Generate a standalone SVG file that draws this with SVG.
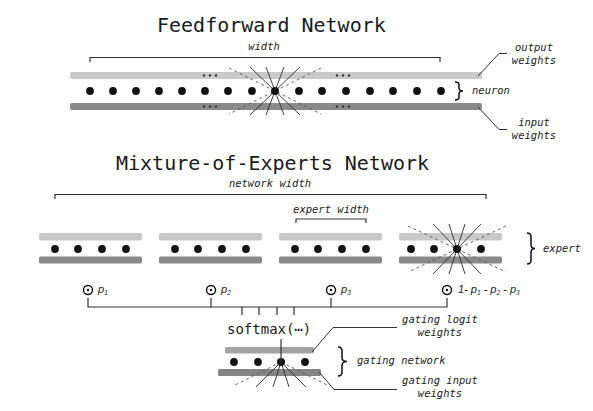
<svg xmlns="http://www.w3.org/2000/svg" width="593" height="411" viewBox="0 0 593 411">
<style>
.title{font-family:"DejaVu Sans Mono","Liberation Mono",monospace;font-size:20px;fill:#1a1a1a}
.lab{font-family:"DejaVu Sans Mono","Liberation Mono",monospace;font-size:10.5px;font-style:italic;fill:#222}
.mid{text-anchor:middle}
.sm{font-family:"DejaVu Sans Mono","Liberation Mono",monospace;font-size:14px;fill:#1a1a1a}
.p{font-family:"Liberation Sans","DejaVu Sans",sans-serif;font-size:11px;font-style:italic;fill:#222}
.sub{font-size:6.5px}
.light{fill:#c9c9c9}
.dark{fill:#8a8a8a}
.gl{fill:#a3a3a3}
.gd{fill:#858585}
.n{fill:#111}
.dot{fill:#333}
.ray{stroke:#2a2a2a;stroke-width:0.9;fill:none}
.dash{stroke:#555;stroke-width:0.9;stroke-dasharray:3 3;fill:none}
.ln{stroke:#333;stroke-width:1.2;fill:none}
.lead{stroke:#333;stroke-width:1;fill:none}
.br{stroke:#111;stroke-width:1.5;fill:none}
.ring{stroke:#111;stroke-width:1.4;fill:none}
</style>

<text class="title" x="157" y="32">Feedforward Network</text>
<text class="title" x="116" y="170">Mixture-of-Experts Network</text>

<g id="ff-network">
  <rect class="light" x="70" y="72" width="412" height="7" rx="2"/>
  <rect class="dark" x="70" y="103" width="412" height="7" rx="2"/>
  <g class="dot">
    <circle cx="204" cy="75.5" r="1.2"/><circle cx="210" cy="75.5" r="1.2"/><circle cx="216" cy="75.5" r="1.2"/>
    <circle cx="337" cy="75.5" r="1.2"/><circle cx="343" cy="75.5" r="1.2"/><circle cx="349" cy="75.5" r="1.2"/>
    <circle cx="204" cy="106.5" r="1.2"/><circle cx="210" cy="106.5" r="1.2"/><circle cx="216" cy="106.5" r="1.2"/>
    <circle cx="337" cy="106.5" r="1.2"/><circle cx="343" cy="106.5" r="1.2"/><circle cx="349" cy="106.5" r="1.2"/>
  </g>
  <g>
    <line class="ray" x1="250" y1="67" x2="300" y2="115"/>
    <line class="ray" x1="266" y1="67" x2="284" y2="115"/>
    <line class="ray" x1="284" y1="67" x2="266" y2="115"/>
    <line class="ray" x1="300" y1="67" x2="250" y2="115"/>
    <line class="dash" x1="229" y1="68" x2="321" y2="114"/>
    <line class="dash" x1="321" y1="68" x2="229" y2="114"/>
  </g>
  <g class="n">
    <circle cx="90" cy="91" r="3.9"/><circle cx="113" cy="91" r="3.9"/><circle cx="136" cy="91" r="3.9"/><circle cx="159" cy="91" r="3.9"/>
    <circle cx="182" cy="91" r="3.9"/><circle cx="205" cy="91" r="3.9"/><circle cx="228" cy="91" r="3.9"/><circle cx="252" cy="91" r="3.9"/>
    <circle cx="275" cy="91" r="4"/><circle cx="299" cy="91" r="3.9"/><circle cx="322" cy="91" r="3.9"/><circle cx="346" cy="91" r="3.9"/>
    <circle cx="370" cy="91" r="3.9"/><circle cx="393" cy="91" r="3.9"/><circle cx="417" cy="91" r="3.9"/><circle cx="441" cy="91" r="3.9"/>
  </g>
</g>

<g id="ff-labels">
  <text class="lab mid" x="264" y="50">width</text>
  <path class="ln" d="M90,62 V57.5 H440 V62"/>
  <path class="br" d="M455,82 Q459,82 459,85 L459,88 Q459,91 463,91 Q459,91 459,94 L459,97 Q459,100 455,100"/>
  <text class="lab" x="472" y="94">neuron</text>
  <text class="lab mid" x="534" y="51">output</text>
  <text class="lab mid" x="534" y="64">weights</text>
  <text class="lab mid" x="534" y="126">input</text>
  <text class="lab mid" x="534" y="139">weights</text>
</g>

<g id="moe-labels">
  <text class="lab mid" x="270" y="187">network width</text>
  <path class="ln" d="M55,199 V194.5 H486 V199"/>
  <text class="lab mid" x="331" y="213">expert width</text>
  <path class="ln" d="M296,223 V219 H366 V223"/>
  <path class="br" d="M527,233 Q531,233 531,237 L531,244.5 Q531,248.5 535,248.5 Q531,248.5 531,252.5 L531,260 Q531,264 527,264"/>
  <text class="lab" x="543" y="252">expert</text>
</g>

<g id="expert-1">
  <rect class="light" x="39" y="233" width="103" height="7.5" rx="1.5"/>
  <rect class="dark" x="39" y="256.5" width="103" height="7" rx="1.5"/>
  <g class="n"><circle cx="55" cy="249" r="3.9"/><circle cx="78" cy="249" r="3.9"/><circle cx="102" cy="249" r="3.9"/><circle cx="126" cy="249" r="3.9"/></g>
</g>
<g id="expert-2">
  <rect class="light" x="159" y="233" width="103" height="7.5" rx="1.5"/>
  <rect class="dark" x="159" y="256.5" width="103" height="7" rx="1.5"/>
  <g class="n"><circle cx="175" cy="249" r="3.9"/><circle cx="198" cy="249" r="3.9"/><circle cx="222" cy="249" r="3.9"/><circle cx="246" cy="249" r="3.9"/></g>
</g>
<g id="expert-3">
  <rect class="light" x="279" y="233" width="103" height="7.5" rx="1.5"/>
  <rect class="dark" x="279" y="256.5" width="103" height="7" rx="1.5"/>
  <g class="n"><circle cx="295" cy="249" r="3.9"/><circle cx="318" cy="249" r="3.9"/><circle cx="342" cy="249" r="3.9"/><circle cx="366" cy="249" r="3.9"/></g>
</g>
<g id="expert-4">
  <rect class="light" x="399" y="233" width="103" height="7.5" rx="1.5"/>
  <rect class="dark" x="399" y="256.5" width="103" height="7" rx="1.5"/>
  <line class="ray" x1="433" y1="224" x2="481" y2="274"/>
  <line class="ray" x1="449" y1="224" x2="465" y2="274"/>
  <line class="ray" x1="465" y1="224" x2="449" y2="274"/>
  <line class="ray" x1="481" y1="224" x2="433" y2="274"/>
  <line class="dash" x1="408" y1="226" x2="506" y2="272"/>
  <line class="dash" x1="506" y1="226" x2="408" y2="272"/>
  <g class="n"><circle cx="411" cy="249" r="3.9"/><circle cx="434" cy="249" r="3.9"/><circle cx="457" cy="249" r="4"/><circle cx="481" cy="249" r="3.9"/></g>
</g>

<g id="gates">
  <circle class="ring" cx="88" cy="290" r="4.5"/><circle class="n" cx="88" cy="290" r="1.2"/>
  <text class="p" x="98" y="293">p<tspan class="sub" dy="2">1</tspan></text>
  <circle class="ring" cx="211" cy="290" r="4.5"/><circle class="n" cx="211" cy="290" r="1.2"/>
  <text class="p" x="221" y="293">p<tspan class="sub" dy="2">2</tspan></text>
  <circle class="ring" cx="331" cy="290" r="4.5"/><circle class="n" cx="331" cy="290" r="1.2"/>
  <text class="p" x="341" y="293">p<tspan class="sub" dy="2">3</tspan></text>
  <circle class="ring" cx="447" cy="290" r="4.5"/><circle class="n" cx="447" cy="290" r="1.2"/>
  <text class="p" x="458" y="293">1- p<tspan class="sub" dy="2">1</tspan><tspan dy="-2"> - p</tspan><tspan class="sub" dy="2">2</tspan><tspan dy="-2"> - p</tspan><tspan class="sub" dy="2">3</tspan></text>
</g>

<g id="softmax">
  <text class="sm" x="227" y="334">softmax(⋯)</text>
</g>

<g id="gating-network">
  <rect class="gl" x="225" y="347" width="89" height="6.5" rx="1.5"/>
  <rect class="gd" x="218" y="369" width="103" height="7" rx="1.5"/>
  <line class="ray" x1="281" y1="362" x2="256" y2="387"/>
  <line class="ray" x1="281" y1="362" x2="273" y2="387"/>
  <line class="ray" x1="281" y1="362" x2="289" y2="387"/>
  <line class="ray" x1="281" y1="362" x2="306" y2="387"/>
  <line class="dash" x1="281" y1="362" x2="233" y2="386"/>
  <line class="dash" x1="281" y1="362" x2="329" y2="386"/>
  <g class="n"><circle cx="234" cy="362" r="3.9"/><circle cx="258" cy="362" r="3.9"/><circle cx="281" cy="362" r="4"/><circle cx="305" cy="362" r="3.9"/></g>
</g>

<g id="gating-labels">
  <text class="lab mid" x="440" y="323">gating logit</text>
  <text class="lab mid" x="440" y="336">weights</text>
  <path class="br" d="M338,347 Q342,347 342,351 L342,357.5 Q342,361.5 347,361.5 Q342,361.5 342,365.5 L342,372 Q342,376 338,376"/>
  <text class="lab" x="357" y="364">gating network</text>
  <text class="lab mid" x="440" y="384">gating input</text>
  <text class="lab mid" x="440" y="397">weights</text>
</g>

<g id="connectors">
  <path class="lead" d="M478,76 L499,53.5 H507"/>
  <path class="lead" d="M478,107 L499,129.5 H507"/>
  <path class="ln" d="M88,298 V307 M211,298 V307 M331,298 V307 M447,298 V307 M87.4,307 H447.6"/>
  <path class="ln" d="M242,307 V315 M259,307 V315 M277,307 V315 M294,307 V315"/>
  <line class="ln" x1="281" y1="339" x2="281" y2="362"/>
  <path class="lead" d="M312,352 L333,327.5 H397"/>
  <path class="lead" d="M319,372 L334,389.5 H397"/>
</g>
</svg>
